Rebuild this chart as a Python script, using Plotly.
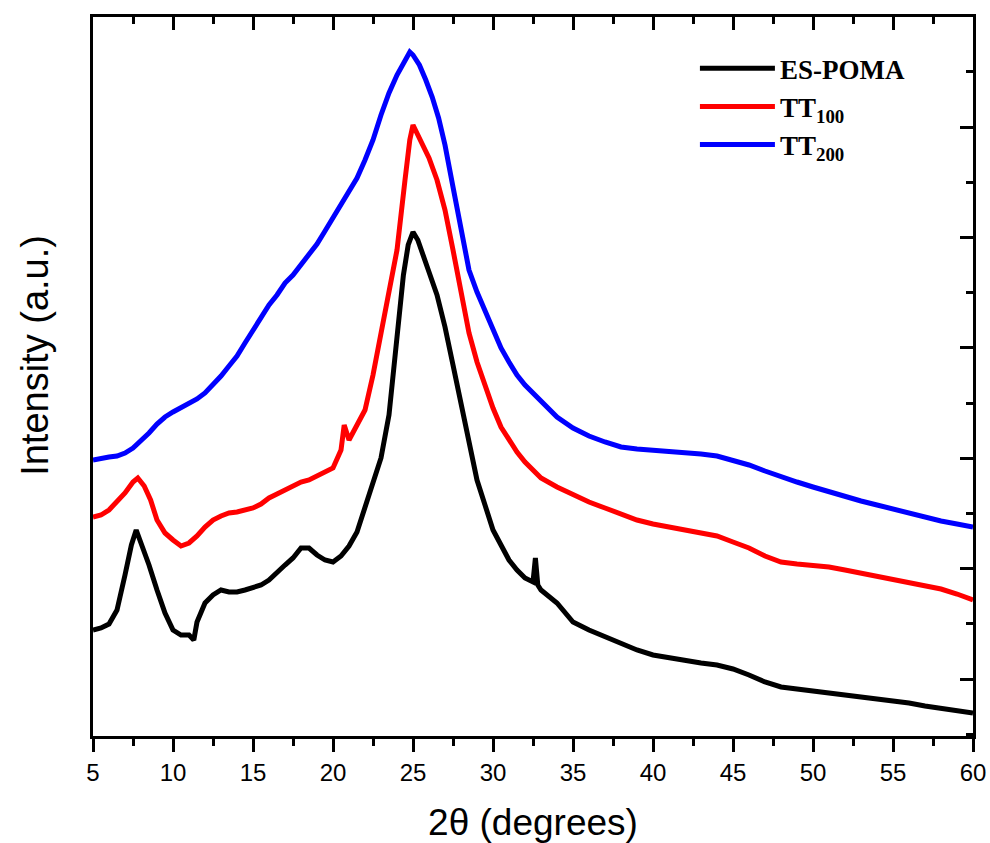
import plotly.graph_objects as go

# 2-theta positions (degrees) and intensities (a.u.)
x_es = [5.0, 5.5, 6.0, 6.5, 7.0, 7.4, 7.7, 8.0, 8.5, 9.0, 9.5, 10.0, 10.5, 11.0, 11.3, 11.5,
        12.0, 12.5, 13.0, 13.5, 14.0, 14.5, 15.0, 15.5, 16.0, 16.5, 17.0, 17.5, 18.0, 18.5,
        19.0, 19.5, 20.0, 20.5, 21.0, 21.5, 22.0, 22.5, 23.0, 23.5, 24.0, 24.4, 24.7, 25.0,
        25.3, 25.6, 26.0, 26.5, 27.0, 27.5, 28.0, 28.5, 29.0, 29.5, 30.0, 30.5, 31.0, 31.5,
        32.0, 32.5, 32.65, 32.8, 33.0, 34.0, 35.0, 36.0, 37.0, 38.0, 39.0, 40.0, 41.0, 42.0,
        43.0, 44.0, 45.0, 46.0, 47.0, 48.0, 49.0, 50.0, 51.0, 52.0, 53.0, 54.0, 55.0, 56.0,
        57.0, 58.0, 59.0, 60.0]
y_es = [106, 108, 112, 126, 161, 191, 206, 193, 171, 146, 123, 106, 101, 101, 96, 114,
        133, 141, 146, 144, 144, 146, 148, 151, 156, 164, 171, 178, 188, 188,
        181, 176, 174, 180, 190, 204, 228, 253, 278, 321, 401, 461, 491, 504,
        496, 481, 464, 441, 409, 371, 333, 296, 256, 231, 206, 191, 176, 166,
        158, 154, 178, 151, 146, 133, 114, 106, 99, 93, 86, 81, 78, 75,
        73, 71, 67, 61, 54, 49, 47, 45, 44, 42, 40, 38, 36, 33,
        30, 28, 26, 23]

x_tt100 = [5.0, 5.5, 6.0, 6.5, 7.0, 7.5, 7.8, 8.2, 8.6, 9.0, 9.5, 10.0, 10.5, 11.0, 11.5,
           12.0, 12.5, 13.0, 13.5, 14.0, 14.5, 15.0, 15.5, 16.0, 16.5, 17.0, 17.5, 18.0,
           18.5, 19.0, 19.5, 20.0, 20.5, 20.7, 21.0, 21.5, 22.0, 22.5, 23.0, 23.5, 24.0,
           24.5, 24.8, 25.0, 25.3, 25.6, 26.0, 26.5, 27.0, 27.5, 28.0, 28.5, 29.0, 29.5,
           30.0, 30.5, 31.0, 31.5, 32.0, 32.5, 33.0, 34.0, 35.0, 36.0, 37.0, 38.0, 39.0,
           40.0, 41.0, 42.0, 43.0, 44.0, 45.0, 46.0, 47.0, 48.0, 49.0, 50.0, 51.0, 52.0,
           53.0, 54.0, 55.0, 56.0, 57.0, 58.0, 59.0, 60.0]
y_tt100 = [219, 221, 226, 234, 243, 254, 258, 250, 236, 216, 203, 196, 190, 193, 200,
           209, 216, 220, 223, 224, 226, 228, 232, 238, 242, 246, 251, 254,
           256, 260, 264, 268, 286, 311, 296, 311, 326, 361, 401, 441, 486,
           556, 596, 611, 601, 591, 578, 556, 526, 486, 444, 403, 374, 351,
           328, 309, 296, 284, 274, 266, 258, 249, 241, 234, 228, 222, 216,
           212, 209, 207, 204, 200, 194, 188, 180, 174, 172, 171, 169, 166,
           163, 160, 157, 154, 151, 147, 142, 136]

x_tt200 = [5.0, 5.5, 6.0, 6.5, 7.0, 7.5, 8.0, 8.5, 9.0, 9.5, 10.0, 10.5, 11.0, 11.5, 12.0,
           12.5, 13.0, 13.5, 14.0, 14.5, 15.0, 15.5, 16.0, 16.5, 17.0, 17.5, 18.0, 18.5,
           19.0, 19.5, 20.0, 20.5, 21.0, 21.5, 22.0, 22.5, 23.0, 23.5, 24.0, 24.5, 24.8,
           25.0, 25.4, 25.8, 26.2, 26.6, 27.0, 27.5, 28.0, 28.5, 29.0, 29.5, 30.0, 30.5,
           31.0, 31.5, 32.0, 32.5, 33.0, 33.5, 34.0, 35.0, 36.0, 37.0, 38.0, 39.0, 40.0,
           41.0, 42.0, 43.0, 44.0, 45.0, 46.0, 47.0, 48.0, 49.0, 50.0, 51.0, 52.0, 53.0,
           54.0, 55.0, 56.0, 57.0, 58.0, 59.0, 60.0]
y_tt200 = [276, 278, 279, 280, 283, 288, 295, 303, 312, 319, 324, 328, 333, 337, 343,
           351, 360, 370, 380, 393, 406, 418, 431, 441, 453, 461, 471, 480,
           492, 505, 518, 531, 543, 558, 576, 596, 621, 643, 661, 674, 684,
           681, 671, 656, 639, 618, 591, 549, 504, 466, 444, 426, 406, 388,
           374, 361, 351, 343, 334, 326, 319, 308, 300, 294, 289, 287, 286,
           285, 283, 282, 280, 276, 271, 265, 259, 254, 249, 244, 239, 235,
           231, 227, 222, 218, 215, 212, 209]

series_names = ["ES-POMA", "TT<sub>100</sub>", "TT<sub>200</sub>"]
series_colors = ["#000000", "#ff0000", "#0000ff"]

x_range = [5, 60]
y_range = [0, 719]
x_ticks = [5, 10, 15, 20, 25, 30, 35, 40, 45, 50, 55, 60]

fig = go.Figure()
for xs, ys, name, col in zip([x_es, x_tt100, x_tt200], [y_es, y_tt100, y_tt200],
                             series_names, series_colors):
    fig.add_trace(go.Scatter(x=xs, y=ys, mode="lines", name=name,
                             line=dict(color=col, width=5)))

# invisible helper trace so the mirrored top/right axes are drawn
fig.add_trace(go.Scatter(x=x_range, y=y_range, mode="lines", xaxis="x2", yaxis="y2",
                         line=dict(width=0), showlegend=False, hoverinfo="skip"))

sans = "Liberation Sans, Arial, sans-serif"
axis_font = dict(family=sans, size=24, color="black")

fig.update_layout(
    width=990, height=843,
    margin=dict(l=93, r=17, t=17, b=107),
    paper_bgcolor="white", plot_bgcolor="white",
    showlegend=True,
    legend=dict(x=0.684, y=0.962, xanchor="left", yanchor="top",
                bgcolor="rgba(0,0,0,0)", itemwidth=75,
                font=dict(family="Liberation Serif, Times New Roman, serif", size=27,
                          color="black", weight="bold"),
                tracegroupgap=0),
    xaxis=dict(range=x_range, tickvals=x_ticks, ticks="outside", ticklen=13, tickwidth=2.5,
               tickcolor="black", showline=True, linewidth=2.5, linecolor="black",
               showgrid=False, zeroline=False, tickfont=axis_font, automargin=False,
               minor=dict(dtick=2.5, tick0=5, ticks="outside", ticklen=7, tickwidth=2.5,
                          tickcolor="black", showgrid=False),
               title=dict(text="2θ (degrees)", standoff=26,
                          font=dict(family=sans, size=37, color="black"))),
    yaxis=dict(range=y_range, showticklabels=False, ticks="", showline=True, linewidth=2.5,
               linecolor="black", showgrid=False, zeroline=False, automargin=False),
    xaxis2=dict(range=x_range, overlaying="x", side="top", anchor="y2", tickvals=x_ticks,
                ticks="inside", ticklen=13, tickwidth=2.5, tickcolor="black",
                showticklabels=False, showline=True, linewidth=2.5, linecolor="black",
                showgrid=False, zeroline=False, automargin=False,
                minor=dict(dtick=2.5, tick0=5, ticks="inside", ticklen=7, tickwidth=2.5,
                           tickcolor="black", showgrid=False)),
    yaxis2=dict(range=y_range, overlaying="y", side="right", anchor="x2",
                tick0=57, dtick=110.4, ticks="inside", ticklen=13, tickwidth=2.5,
                tickcolor="black", showticklabels=False, showline=True, linewidth=2.5,
                linecolor="black", showgrid=False, zeroline=False, automargin=False,
                minor=dict(tick0=57, dtick=55.2, ticks="inside", ticklen=7, tickwidth=2.5,
                           tickcolor="black", showgrid=False)),
    annotations=[dict(text="Intensity (a.u.)", textangle=-90, xref="paper", yref="paper",
                      x=-0.066, y=0.53, xanchor="center", yanchor="middle", showarrow=False,
                      font=dict(family=sans, size=38, color="black"))],
)

fig.write_html("out.html")
